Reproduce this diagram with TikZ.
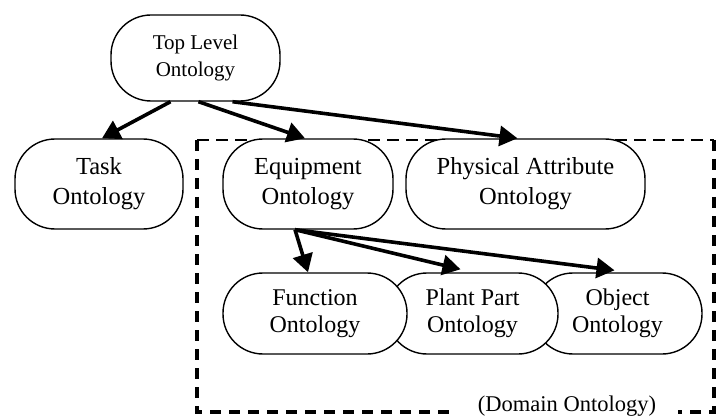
\documentclass[tikz,border=0pt]{standalone}
\usepackage{fontspec}
\setmainfont{Liberation Serif}
\usetikzlibrary{arrows.meta}
\begin{document}
\begin{tikzpicture}[x=1pt,y=-1pt,
  onto/.style={draw, line width=1.4pt, fill=white, rounded corners=40pt,
    align=center, inner sep=0pt, font=\fontsize{24.5}{30}\selectfont},
  lower/.style={onto, minimum height=81pt, font=\fontsize{24}{27.5}\selectfont},
  link/.style={line width=3.6pt, -{Triangle[length=18pt,width=20pt]}},
  thinedge/.style={line width=1.3pt, dash pattern=on 12pt off 7pt},
  thickedge/.style={line width=3.8pt, dash pattern=on 11pt off 8pt}]
\useasboundingbox (0,0) rectangle (718,417);

% upper levels
\node[onto, minimum width=169pt, minimum height=86pt,
  font=\fontsize{21}{27.5}\selectfont] (top) at (195.5,58) {Top Level\\Ontology};
\node[onto, minimum width=168pt, minimum height=90pt] (task) at (99,184) {Task\\Ontology};

% domain ontology frame
\coordinate (tl) at (197,140);
\coordinate (tr) at (714,140);
\coordinate (br) at (714,412);
\coordinate (bl) at (197,412);
\coordinate (gapL) at (457,412);
\coordinate (gapR) at (678,412);
\draw[thinedge] (tl) -- (tr);
\draw[thickedge] (tl) -- (bl) -- (gapL);
\draw[thickedge] (tr) -- (br) -- (gapR);
\node[anchor=base, inner sep=0pt, font=\fontsize{22.5}{27}\selectfont] (dom) at (567,411) {(Domain Ontology)};

\node[onto, minimum width=170pt, minimum height=90pt] (equip) at (308,184) {Equipment\\Ontology};
\node[onto, minimum width=239pt, minimum height=90pt] (phys) at (525.5,184) {Physical Attribute\\Ontology};

% lower row, overlapping from right to left
\node[lower, minimum width=169pt] (obj) at (617.5,313.5) {Object\\Ontology};
\node[lower, minimum width=171pt] (plant) at (472.5,313.5) {Plant Part\\Ontology};
\node[lower, minimum width=184pt] (func) at (315,313.5) {Function\\Ontology};

% connectors
\draw[link] ([xshift=-25pt]top.south) -- ([xshift=3pt]task.north);
\draw[link] ([xshift=3pt]top.south) -- ([xshift=-3pt]equip.north);
\draw[link] ([xshift=37pt]top.south) -- ([xshift=-8pt]phys.north);
\draw[link] ([xshift=-13pt]equip.south) -- ([xshift=-7pt]func.north);
\draw[link] ([xshift=-13pt]equip.south) -- ([xshift=-12pt,yshift=3pt]plant.north);
\draw[link] ([xshift=-13pt]equip.south) -- ([xshift=-3pt,yshift=2pt]obj.north);
\end{tikzpicture}
\end{document}
